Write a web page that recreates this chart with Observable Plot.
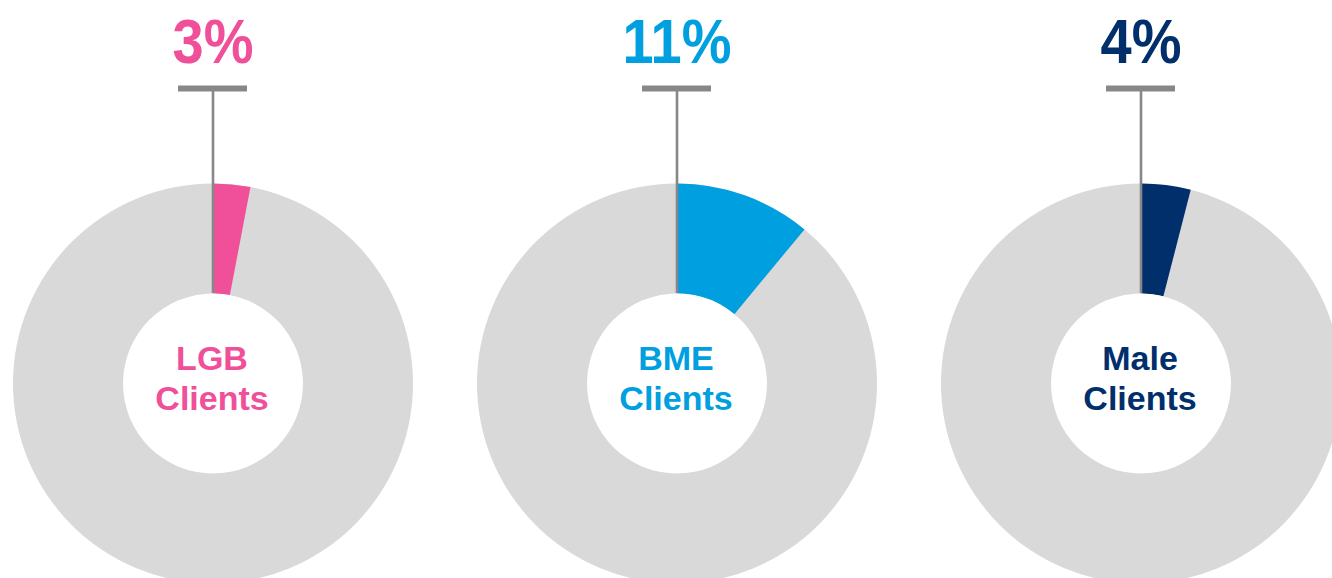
<!DOCTYPE html>
<html>
<head>
<meta charset="utf-8">
<script src="https://cdn.jsdelivr.net/npm/d3@7"></script>
<script src="https://cdn.jsdelivr.net/npm/@observablehq/plot@0.6"></script>
<style>
  html, body { margin: 0; padding: 0; background: #fff; overflow: hidden; }
  #chart svg { display: block; overflow: hidden; }
</style>
</head>
<body>
<div id="chart"></div>
<script>
// ---- data ----
const categories = ["LGB", "BME", "Male"];
const centerLabels = ["LGB\nClients", "BME\nClients", "Male\nClients"];
const shares = [3, 11, 4];              // percent of clients
const pctLabels = ["3%", "11%", "4%"];
const colors = ["#F0509A", "#009FDF", "#002F6C"];

const rows = categories.map((c, i) => ({
  cat: c, label: centerLabels[i], value: shares[i], pct: pctLabels[i], color: colors[i]
}));

// ---- layout/style constants ----
const OUTER = 200, INNER = 90;
const ringGrey = "#D9D9D9", tickGrey = "#87878A";
const FONT = "'Liberation Sans', Arial, Helvetica, sans-serif";

// annular-sector symbol starting at 12 o'clock, clockwise
function sector(frac, innerRatio) {
  return {
    draw(context, size) {
      const R = Math.sqrt(size / Math.PI);
      const r0 = R * innerRatio;
      const a0 = -Math.PI / 2, a1 = a0 + frac * 2 * Math.PI;
      context.moveTo(r0 * Math.cos(a0), r0 * Math.sin(a0));
      context.lineTo(R * Math.cos(a0), R * Math.sin(a0));
      context.arc(0, 0, R, a0, a1, false);
      context.lineTo(r0 * Math.cos(a1), r0 * Math.sin(a1));
      context.arc(0, 0, r0, a1, a0, true);
      context.closePath();
    }
  };
}

const PCT_Y = 1.605;

const plot = Plot.plot({
  width: 1332,
  height: 578,
  margin: 0,
  style: { background: "#fff", fontFamily: FONT, overflow: "hidden" },
  x: { type: "band", domain: categories, range: [177.5, 1175.5], paddingInner: 0.8515, paddingOuter: 0, axis: null },
  y: { domain: [-1, 1], range: [583, 183], axis: null },
  marks: [
    // grey ring
    Plot.dot(rows, { x: "cat", y: 0, r: OUTER, fill: ringGrey, stroke: null, symbol: "circle" }),
    // coloured share sectors
    ...rows.map((d) =>
      Plot.dot([d], { x: "cat", y: 0, r: OUTER, fill: d.color, stroke: null, symbol: sector(d.value / 100, INNER / OUTER) })
    ),
    // leader line
    Plot.ruleX(rows, { x: "cat", y1: INNER / OUTER, y2: 1.46, stroke: tickGrey, strokeWidth: 2.6 }),
    // white hole
    Plot.dot(rows, { x: "cat", y: 0, r: INNER, fill: "#fff", stroke: null, symbol: "circle" }),
    // tick bar
    Plot.tickY(rows, { x: "cat", y: 1.475, stroke: tickGrey, strokeWidth: 6 }),
    // percentage labels
    Plot.text(rows, {
      x: "cat", y: PCT_Y, text: "pct", fill: "color",
      fontSize: 56, fontWeight: "bold", lineAnchor: "bottom"
    }),
    // center labels
    Plot.text(rows, {
      x: "cat", y: 0, dx: -1, dy: -6, text: "label", fill: "color",
      fontSize: 34, fontWeight: "bold", lineHeight: 40 / 34, lineAnchor: "middle"
    })
  ]
});

document.getElementById("chart").appendChild(plot);

// slight vertical stretch of the percentage figures, as in the original:
// keep each label's x, put its baseline on the scaled y position, stretch upward
const base = plot.scale("y").apply(PCT_Y);
plot.querySelectorAll("text").forEach((el) => {
  const i = pctLabels.indexOf(el.textContent.trim());
  if (i < 0) return;
  let x = 0;
  const tl = el.transform && el.transform.baseVal;
  if (tl && tl.numberOfItems) x = tl.consolidate().matrix.e;
  if (el.hasAttribute("x")) { x += +el.getAttribute("x") || 0; el.removeAttribute("x"); }
  el.removeAttribute("y");
  el.removeAttribute("dy");
  el.setAttribute("transform", `translate(${x},${base}) scale(1,1.14)`);
});
</script>
</body>
</html>
